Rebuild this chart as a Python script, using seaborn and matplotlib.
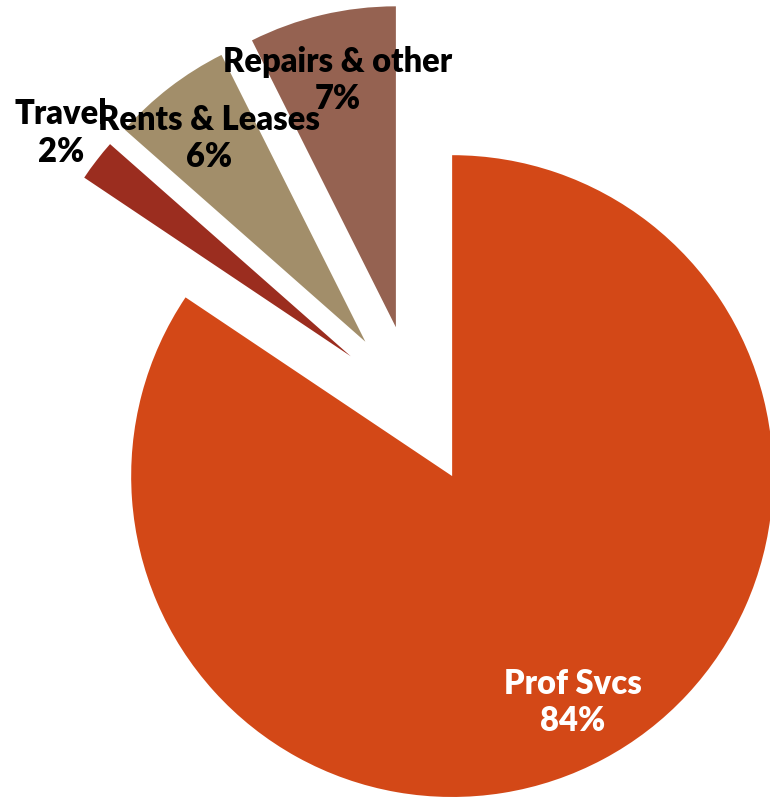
import matplotlib
matplotlib.use("Agg")
import matplotlib.pyplot as plt
import seaborn as sns
import numpy as np

categories = ["Prof Svcs", "Travel", "Rents & Leases", "Repairs & other"]
values = [84.4, 2.1, 6.1, 7.4]
pct_labels = ["84%", "2%", "6%", "7%"]
colors = ["#D34817", "#9B2D1F", "#A28E6A", "#956251"]
explode = [0.25, 0.25, 0.25, 0.25]
label_dist = [0.80, 1.14, 0.80, 0.79]
text_colors = ["white", "black", "black", "black"]

sns.set_theme(style="white")
plt.rcParams['font.family'] = ['Lato', 'DejaVu Sans']

fig = plt.figure(figsize=(7.7, 8), dpi=100)
ax = fig.add_axes([0, 0, 1, 1])
wedges, _ = ax.pie(values, explode=explode, colors=colors, startangle=90,
                   counterclock=False, wedgeprops=dict(linewidth=0))
for w, cat, pct, d, tc in zip(wedges, categories, pct_labels, label_dist, text_colors):
    mid = np.deg2rad((w.theta1 + w.theta2) / 2)
    cx, cy = w.center
    ax.text(cx + d * w.r * np.cos(mid), cy + d * w.r * np.sin(mid),
            f"{cat}\n{pct}", ha="center", va="center", color=tc,
            fontsize=23.5, fontweight="heavy", linespacing=1.22)
ax.set_xlim(-1.291, 1.108)
ax.set_ylim(-1.230, 1.263)
ax.set_aspect("auto")
ax.axis("off")
fig.savefig("out.png", dpi=100)
